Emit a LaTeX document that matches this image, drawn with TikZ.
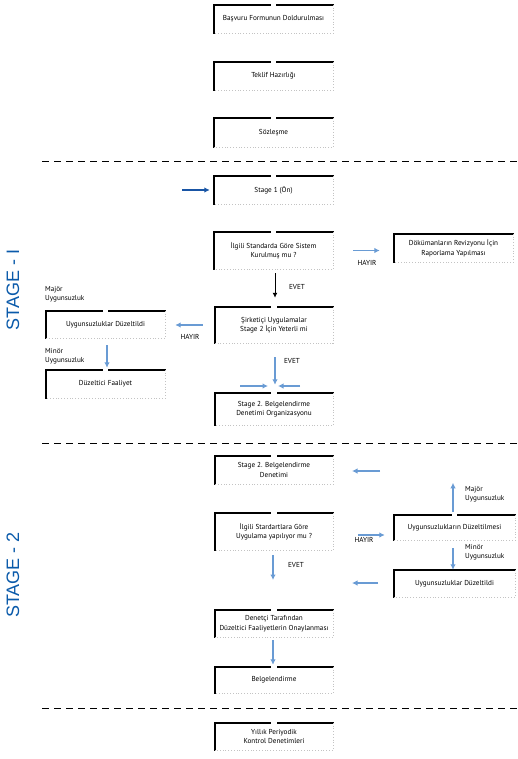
\documentclass[tikz,border=0pt]{standalone}
\usepackage{fontspec}
\setmainfont{PT Sans}
\setsansfont{Liberation Sans}
\usetikzlibrary{arrows.meta}
\definecolor{lblue}{RGB}{105,155,212}
\definecolor{dblue}{RGB}{25,85,165}
\definecolor{stageblue}{RGB}{10,90,170}
\definecolor{edgegrey}{RGB}{195,195,195}
\newcommand\boxborders[2][1]{%
  \ifnum#1=1
    \draw[topline] (#2.south west) -- (#2.north west) -- ([xshift=-4pt]#2.north);
    \draw[topline] ([xshift=4pt]#2.north) -- (#2.north east);
  \else
    \draw[topline] (#2.south west) -- (#2.north west) -- (#2.north east);
  \fi
  \draw[greyline] (#2.north east) -- (#2.south east) -- (#2.south west);
}
\begin{document}
\begin{tikzpicture}[x=1pt,y=-1pt,
  every node/.style={font=\fontsize{7.2}{9.5}\selectfont, inner sep=0pt},
  fbox/.style={align=center, minimum width=#1},
  fbox/.default=119pt,
  topline/.style={line width=2.2pt, black, line cap=rect},
  greyline/.style={line width=0.8pt, edgegrey, dotted},
  larrow/.style={lblue, line width=1.3pt, -{Latex[length=5.5pt,width=5.5pt]}},
  barrow/.style={black, line width=1pt, -{Latex[length=5pt,width=5pt]}},
  darrow/.style={dblue, line width=1.3pt, -{Latex[length=5.5pt,width=5.5pt]}},
  sep/.style={line width=1pt, dash pattern=on 7pt off 5pt},
  stage/.style={font=\sffamily\fontsize{18}{18}\selectfont, text=stageblue, rotate=90}]
\useasboundingbox (0,0) rectangle (518,759);

% separators
\draw[sep] (42,162) -- (518,162);
\draw[sep] (42,443) -- (518,443);
\draw[sep] (42,708) -- (518,708);

% stage labels
\node[stage] (st1) at (13,290) {STAGE - I};
\node[stage] (st2) at (13,575) {STAGE - 2};

% boxes
\node[fbox, minimum height=28pt] (b1) at (273.5,19) {Başvuru Formunun Doldurulması};
\node[fbox, minimum height=28pt] (b2) at (273.5,76) {Teklif Hazırlığı};
\node[fbox, minimum height=29pt] (b3) at (273.5,132.5) {Sözleşme};
\node[fbox, minimum height=28pt] (s1) at (273.5,190) {Stage 1 (Ön)};
\node[fbox, minimum height=37pt] (q1) at (273.5,250.5) {İlgili Standarda Göre Sistem\\Kurulmuş mu ?};
\node[fbox, minimum height=28pt] (dk) at (453.5,248) {Dökümanların Revizyonu İçin\\Raporlama Yapılması};
\node[fbox=118pt, minimum height=36pt] (q2) at (274,325) {Şirketiçi Uygulamalar\\Stage 2 İçin Yeterli mi};
\node[fbox, minimum height=27pt] (ud1) at (105.5,324.5) {Uygunsuzluklar Düzeltildi};
\node[fbox, minimum height=28pt] (df) at (105.5,384) {Düzeltici Faaliyet};
\node[fbox=118pt, minimum height=32pt] (s2o) at (274,409) {Stage 2. Belgelendirme\\Denetimi Organizasyonu};
\node[fbox=118pt, minimum height=28pt] (s2d) at (274,470) {Stage 2. Belgelendirme\\Denetimi};
\node[fbox=118pt, minimum height=37pt] (q3) at (274,531.5) {İlgili Stardartlara Göre\\Uygulama yapılıyor mu ?};
\node[fbox=121pt, minimum height=25pt] (ud2) at (454.5,527.5) {Uygunsuzlukların Düzeltilmesi};
\node[fbox=121pt, minimum height=27pt] (ud3) at (454.5,583.5) {Uygunsuzluklar Düzeltildi};
\node[fbox=118pt, minimum height=27pt] (dt) at (274,623.5) {Denetçi Tarafından\\Düzeltici Faaliyetlerin Onaylanması};
\node[fbox=118pt, minimum height=26pt] (bg) at (274,680) {Belgelendirme};
\node[fbox=118pt, minimum height=27pt] (yl) at (274,736.5) {Yıllık Periyodik\\Kontrol Denetimleri};

\boxborders{b1}
\boxborders{b2}
\boxborders{b3}
\boxborders{s1}
\boxborders{q1}
\boxborders[0]{dk}
\boxborders{q2}
\boxborders{ud1}
\boxborders{df}
\boxborders{s2o}
\boxborders{s2d}
\boxborders{q3}
\boxborders{ud2}
\boxborders[0]{ud3}
\boxborders{dt}
\boxborders{bg}
\boxborders{yl}

% free arrow ends
\coordinate (in1) at (182,190);
\coordinate (inA) at (240,386);
\coordinate (inB) at (300,386);
\coordinate (inAe) at (268,386);
\coordinate (inBe) at (278,386);
\coordinate (r1) at (380,471);
\coordinate (r1e) at (352,471);
\coordinate (r2) at (378,583);
\coordinate (r2e) at (352,583);
\coordinate (q3e) at (273,580);

% arrows
\draw[darrow] (in1) -- ([xshift=-4pt]s1.west);
\draw[barrow, shorten <=4pt, shorten >=9pt] ([xshift=1.5pt]q1.south) -- ([xshift=1pt]q2.north);
\node (evet1) at (297,287) {EVET};
\draw[larrow, shorten <=20pt, shorten >=14pt] (q1.east) -- (q1.east -| dk.west);
\node (hayir1) at (367,263) {HAYIR};
\draw[larrow, shorten <=12pt, shorten >=10pt] (q2.west) -- (q2.west -| ud1.east);
\node (hayir2) at (190,337) {HAYIR};
\draw[larrow, shorten <=7pt, shorten >=2pt] ([xshift=1.5pt]ud1.south) -- ([xshift=1.5pt]df.north);
\node[anchor=north west, align=left] (maj1) at (45,286) {Majör\\Uygunsuzluk};
\node[anchor=north west, align=left] (min1) at (45,348) {Minör\\Uygunsuzluk};
\draw[larrow, shorten <=14pt, shorten >=8pt] ([xshift=1pt]q2.south) -- ([xshift=1pt]s2o.north);
\node (evet2) at (292,361) {EVET};
\draw[larrow] (inA) -- (inAe);
\draw[larrow] (inB) -- (inBe);

\draw[larrow] (r1) -- (r1e);
\draw[larrow, shorten <=25pt, shorten >=9pt] ([yshift=-3.5pt]q3.east) -- ([yshift=-3.5pt]q3.east -| ud2.west);
\node (hayir3) at (364,540) {HAYIR};
\draw[larrow, shorten <=3pt] ([xshift=-1.5pt]ud2.north) -- ++(0,-32);
\node[anchor=north west, align=left] (maj2) at (465,486) {Majör\\Uygunsuzluk};
\draw[larrow, shorten <=8pt, shorten >=0pt] ([xshift=-1.5pt]ud2.south) -- ([xshift=-1.5pt]ud3.north);
\node[anchor=north west, align=left] (min2) at (465,544) {Minör\\Uygunsuzluk};
\draw[larrow] (r2) -- (r2e);
\draw[larrow, shorten <=5pt] ([xshift=-1pt]q3.south) -- (q3e);
\node (evet3) at (296,565) {EVET};
\draw[larrow, shorten <=3pt, shorten >=2pt] ([xshift=-1pt]dt.south) -- ([xshift=-1pt]bg.north);
\end{tikzpicture}
\end{document}
